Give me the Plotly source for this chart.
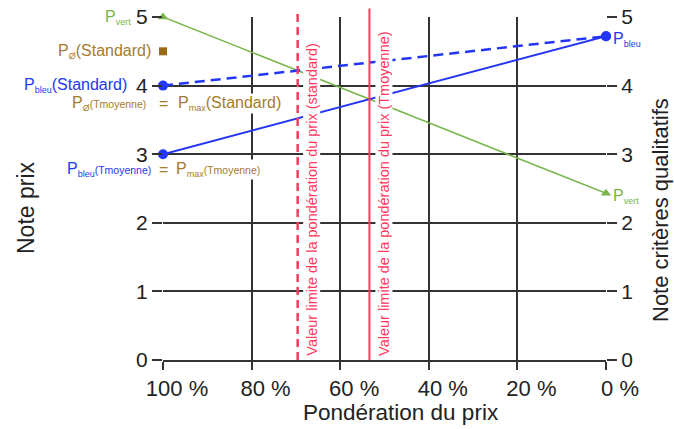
import plotly.graph_objects as go

# ---- data ----
weights = [100, 0]                     # pondération du prix (%)
p_vert = [5, 2.43]                     # P_vert
p_bleu_tmoy = [3, 4.72]                # P_bleu (Tmoyenne)
p_bleu_std = [4, 4.72]                 # P_bleu (Standard)
p_moy_std_x = [100]
p_moy_std_y = [4.5]                    # P_Ø (Standard)
limit_std = 69.6                       # valeur limite (standard)
limit_tmoy = 53.4                      # valeur limite (Tmoyenne)
x_ticks = [100, 80, 60, 40, 20, 0]
x_ticklabels = ["100 %", "80 %", "60 %", "40 %", "20 %", "0 %"]
y_ticks = [0, 1, 2, 3, 4, 5]

GREEN = "#78b64c"
BLUE = "#2436f5"
BROWN = "#a67c2a"
RED = "#ff3a5e"
GRID = "#333333"
FONT = "Liberation Sans, Arial, sans-serif"

fig = go.Figure()

fig.add_trace(go.Scatter(x=weights, y=p_vert, mode="lines+markers",
                         line=dict(color=GREEN, width=1.6),
                         marker=dict(symbol="triangle-up", size=9, color=GREEN),
                         cliponaxis=False, showlegend=False))
fig.add_trace(go.Scatter(x=weights, y=p_bleu_std, mode="lines+markers",
                         line=dict(color=BLUE, width=2.5, dash="10px,6px"),
                         marker=dict(symbol="circle", size=10, color=BLUE),
                         cliponaxis=False, showlegend=False))
fig.add_trace(go.Scatter(x=weights, y=p_bleu_tmoy, mode="lines+markers",
                         line=dict(color=BLUE, width=2),
                         marker=dict(symbol="circle", size=10, color=BLUE),
                         cliponaxis=False, showlegend=False))
fig.add_trace(go.Scatter(x=p_moy_std_x, y=p_moy_std_y, mode="markers",
                         marker=dict(symbol="square", size=8, color="#9a6a14"),
                         cliponaxis=False, showlegend=False))
# invisible trace for the right axis
fig.add_trace(go.Scatter(x=weights, y=p_vert, yaxis="y2", mode="lines",
                         line=dict(width=0), hoverinfo="skip", showlegend=False,
                         opacity=0))

# limit lines
fig.add_shape(type="line", xref="x", yref="paper", x0=limit_std, x1=limit_std,
              y0=0, y1=1.02, line=dict(color=RED, width=2.5, dash="8px,5px"))
fig.add_shape(type="line", xref="x", yref="paper", x0=limit_tmoy, x1=limit_tmoy,
              y0=0, y1=1.025, line=dict(color=RED, width=2))

ann = []
def lab(x, y, text, color, xanchor, xshift=0, yshift=0, size=16, bg=None, **kw):
    d = dict(x=x, y=y, xref="x", yref="y", text=text, showarrow=False,
             xanchor=xanchor, yanchor="middle", xshift=xshift, yshift=yshift,
             font=dict(color=color, size=size, family=FONT))
    if bg:
        d["bgcolor"] = bg
        d["borderpad"] = 0
    d.update(kw)
    ann.append(d)

def sub(s):
    return "<sub><span style='font-size:9px'>" + s + "</span></sub>"

small = "<span style='font-size:10.5px'>(Tmoyenne)</span>"
lab(weights[0], p_vert[0], "P" + sub("vert"), GREEN, "right", xshift=-30)
lab(p_moy_std_x[0], p_moy_std_y[0], "P" + sub("Ø") + "(Standard)", BROWN, "right", xshift=-10)
lab(weights[0], p_bleu_std[0], "P" + sub("bleu") + "(Standard)", BLUE, "right", xshift=-34)
lab(weights[0], 3.74, "P" + sub("Ø") + small, BROWN, "right", xshift=-15)
lab(weights[0], 3.74, "=", BROWN, "center", bg="white")
lab(weights[0], 3.74, "P" + sub("max") + "(Standard)", BROWN, "left", xshift=14, bg="white")
lab(weights[0], 2.77, "P" + sub("bleu") + small, BLUE, "right", xshift=-10)
lab(weights[0], 2.77, "=", BROWN, "center", bg="white")
lab(weights[0], 2.77, "P" + sub("max") + small, BROWN, "left", xshift=12, bg="white")
lab(weights[1], p_bleu_std[1], "P" + sub("bleu"), BLUE, "left", xshift=5, yshift=-3)
lab(weights[1], p_vert[1], "P" + sub("vert"), GREEN, "left", xshift=5, yshift=-3)

# rotated limit labels
ann.append(dict(x=limit_std, y=0, xref="x", yref="y", showarrow=False,
                text="Valeur limite de la pondération du prix (standard)",
                textangle=-90, xanchor="left", yanchor="bottom", xshift=5, yshift=3,
                font=dict(color=RED, size=14.5, family=FONT), bgcolor="white", borderpad=0))
ann.append(dict(x=limit_tmoy, y=0, xref="x", yref="y", showarrow=False,
                text="Valeur limite de la pondération du prix (Tmoyenne)",
                textangle=-90, xanchor="left", yanchor="bottom", xshift=5, yshift=3,
                font=dict(color=RED, size=14.5, family=FONT), bgcolor="white", borderpad=0))

# axis titles
ann.append(dict(x=(401 - 163) / 443, y=(360 - 412) / 343, xref="paper", yref="paper",
                text="Pondération du prix", showarrow=False, xanchor="center", yanchor="middle",
                font=dict(size=22.5, color="#222", family=FONT)))
ann.append(dict(x=(26 - 163) / 443, y=(360 - 208) / 343, xref="paper", yref="paper",
                text="Note prix", showarrow=False, textangle=-90, xanchor="center", yanchor="middle",
                font=dict(size=23, color="#222", family=FONT)))
ann.append(dict(x=(660 - 163) / 443, y=(360 - 210) / 343, xref="paper", yref="paper",
                text="Note critères qualitatifs", showarrow=False, textangle=-90,
                xanchor="center", yanchor="middle",
                font=dict(size=22, color="#222", family=FONT)))

axis_common = dict(tickfont=dict(size=21, color="#222", family=FONT), zeroline=False,
                   automargin=False)

fig.update_layout(
    width=674, height=429,
    margin=dict(l=163, r=68, t=17, b=69, autoexpand=False),
    paper_bgcolor="white", plot_bgcolor="white",
    annotations=ann,
    xaxis=dict(range=[100, 0], tickvals=x_ticks, ticktext=x_ticklabels,
               showgrid=True, gridcolor=GRID, gridwidth=2,
               ticks="outside", ticklen=8, tickwidth=2, tickcolor=GRID,
               showline=True, linecolor=GRID, linewidth=2,
               ticklabelshift=-14, zeroline=False, automargin=False,
               tickfont=dict(size=22, color="#222", family=FONT)),
    yaxis=dict(range=[0, 5], tickvals=y_ticks, showgrid=True, gridcolor=GRID, gridwidth=2,
               ticks="outside", ticklen=10, tickwidth=2, tickcolor=GRID, **axis_common),
    yaxis2=dict(range=[0, 5], tickvals=y_ticks, overlaying="y", side="right", anchor="x",
                showgrid=False, ticks="outside", ticklen=10, tickwidth=2, tickcolor=GRID,
                **axis_common),
    font=dict(family=FONT),
)

fig.write_html("out.html", config={"displayModeBar": False},
               post_script="document.body.style.margin='0';document.body.style.overflow='hidden';")
